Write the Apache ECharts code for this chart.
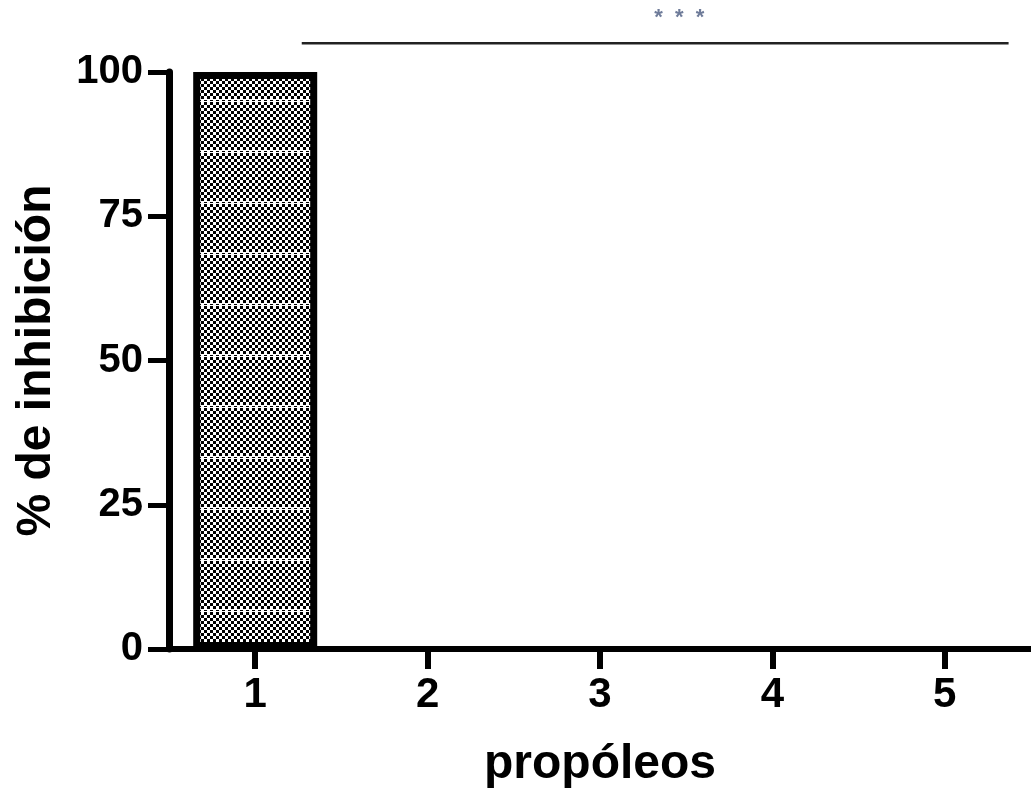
<!DOCTYPE html>
<html>
<head>
<meta charset="utf-8">
<script src="https://cdn.jsdelivr.net/npm/echarts@6/dist/echarts.min.js"></script>
<style>
html,body{margin:0;padding:0;background:#fff;}
#c{width:1031px;height:788px;}
</style>
</head>
<body>
<div id="c"></div>
<script>
const categories = ['1', '2', '3', '4', '5'];
const inhibition = [100, 0, 0, 0, 0];
const yTicks = [0, 25, 50, 75, 100];
const sigBracket = { from: 0.27, to: 4.37, level: 105, label: '*  *  *', labelAt: 2.46, labelLevel: 109.3 };

// pattern tile: checkerboard with a dashed white row
function makePattern() {
  const c = document.createElement('canvas');
  const cell = 3, cols = 2, rows = 17;
  c.width = cell * cols; c.height = cell * rows;
  const g = c.getContext('2d');
  g.fillStyle = '#fff'; g.fillRect(0, 0, c.width, c.height);
  g.fillStyle = '#000';
  for (let r = 0; r < rows - 1; r++) {
    for (let k = 0; k < cols; k++) {
      if ((r + k) % 2 === 0) g.fillRect(k * cell, r * cell, cell, cell);
    }
  }
  g.fillRect(0, (rows - 1) * cell + 1, cell, 1);
  return c;
}

const pattern = makePattern();
const barItems = inhibition.map(v => ({
  value: v,
  itemStyle: v === 0 ? { borderWidth: 0, color: 'transparent' } : undefined
}));

const chart = echarts.init(document.getElementById('c'));
const font = 'Liberation Sans, Arial, sans-serif';
chart.setOption({
  animation: false,
  backgroundColor: '#fff',
  grid: { left: 169, right: 0, top: 72, bottom: 139, containLabel: false, outerBoundsMode: 'none' },
  xAxis: [{
    type: 'category',
    data: categories,
    name: 'propóleos',
    nameLocation: 'middle',
    nameGap: 92,
    nameTextStyle: { fontFamily: font, fontWeight: 'bold', fontSize: 48, color: '#000' },
    axisLine: { show: true, onZero: false, lineStyle: { color: '#000', width: 6 } },
    axisTick: { show: true, alignWithLabel: true, length: 20, lineStyle: { color: '#000', width: 6 } },
    axisLabel: { fontFamily: font, fontWeight: 'bold', fontSize: 42, color: '#000', margin: 25 }
  }, {
    type: 'value', min: -0.5, max: 4.5, show: false
  }],
  yAxis: [{
    type: 'value',
    min: yTicks[0], max: yTicks[yTicks.length - 1], interval: 25,
    name: '% de inhibición',
    nameLocation: 'middle',
    nameGap: 108,
    nameRotate: 90,
    nameTextStyle: { fontFamily: font, fontWeight: 'bold', fontSize: 48, color: '#000' },
    axisLine: { show: true, onZero: false, lineStyle: { color: '#000', width: 7 } },
    axisTick: { show: true, length: 21, lineStyle: { color: '#000', width: 5 } },
    axisLabel: { fontFamily: font, fontWeight: 'bold', fontSize: 40, color: '#000', margin: 26 },
    splitLine: { show: false }
  }],
  series: [{
    type: 'bar',
    data: barItems,
    barWidth: 124,
    itemStyle: {
      color: { image: pattern, repeat: 'repeat' },
      borderColor: '#000',
      borderWidth: 7
    }
  }, {
    type: 'line',
    xAxisIndex: 1,
    yAxisIndex: 0,
    clip: false,
    symbol: 'none',
    data: [[sigBracket.from, sigBracket.level], [sigBracket.to, sigBracket.level]],
    lineStyle: { color: '#222', width: 2.5 }
  }, {
    type: 'scatter',
    xAxisIndex: 1,
    yAxisIndex: 0,
    clip: false,
    symbolSize: 0,
    data: [[sigBracket.labelAt, sigBracket.labelLevel]],
    label: {
      show: true, position: 'inside', formatter: sigBracket.label,
      fontFamily: font, fontSize: 22, color: '#4a5a80', fontWeight: 'bold'
    }
  }]
});
</script>
</body>
</html>
